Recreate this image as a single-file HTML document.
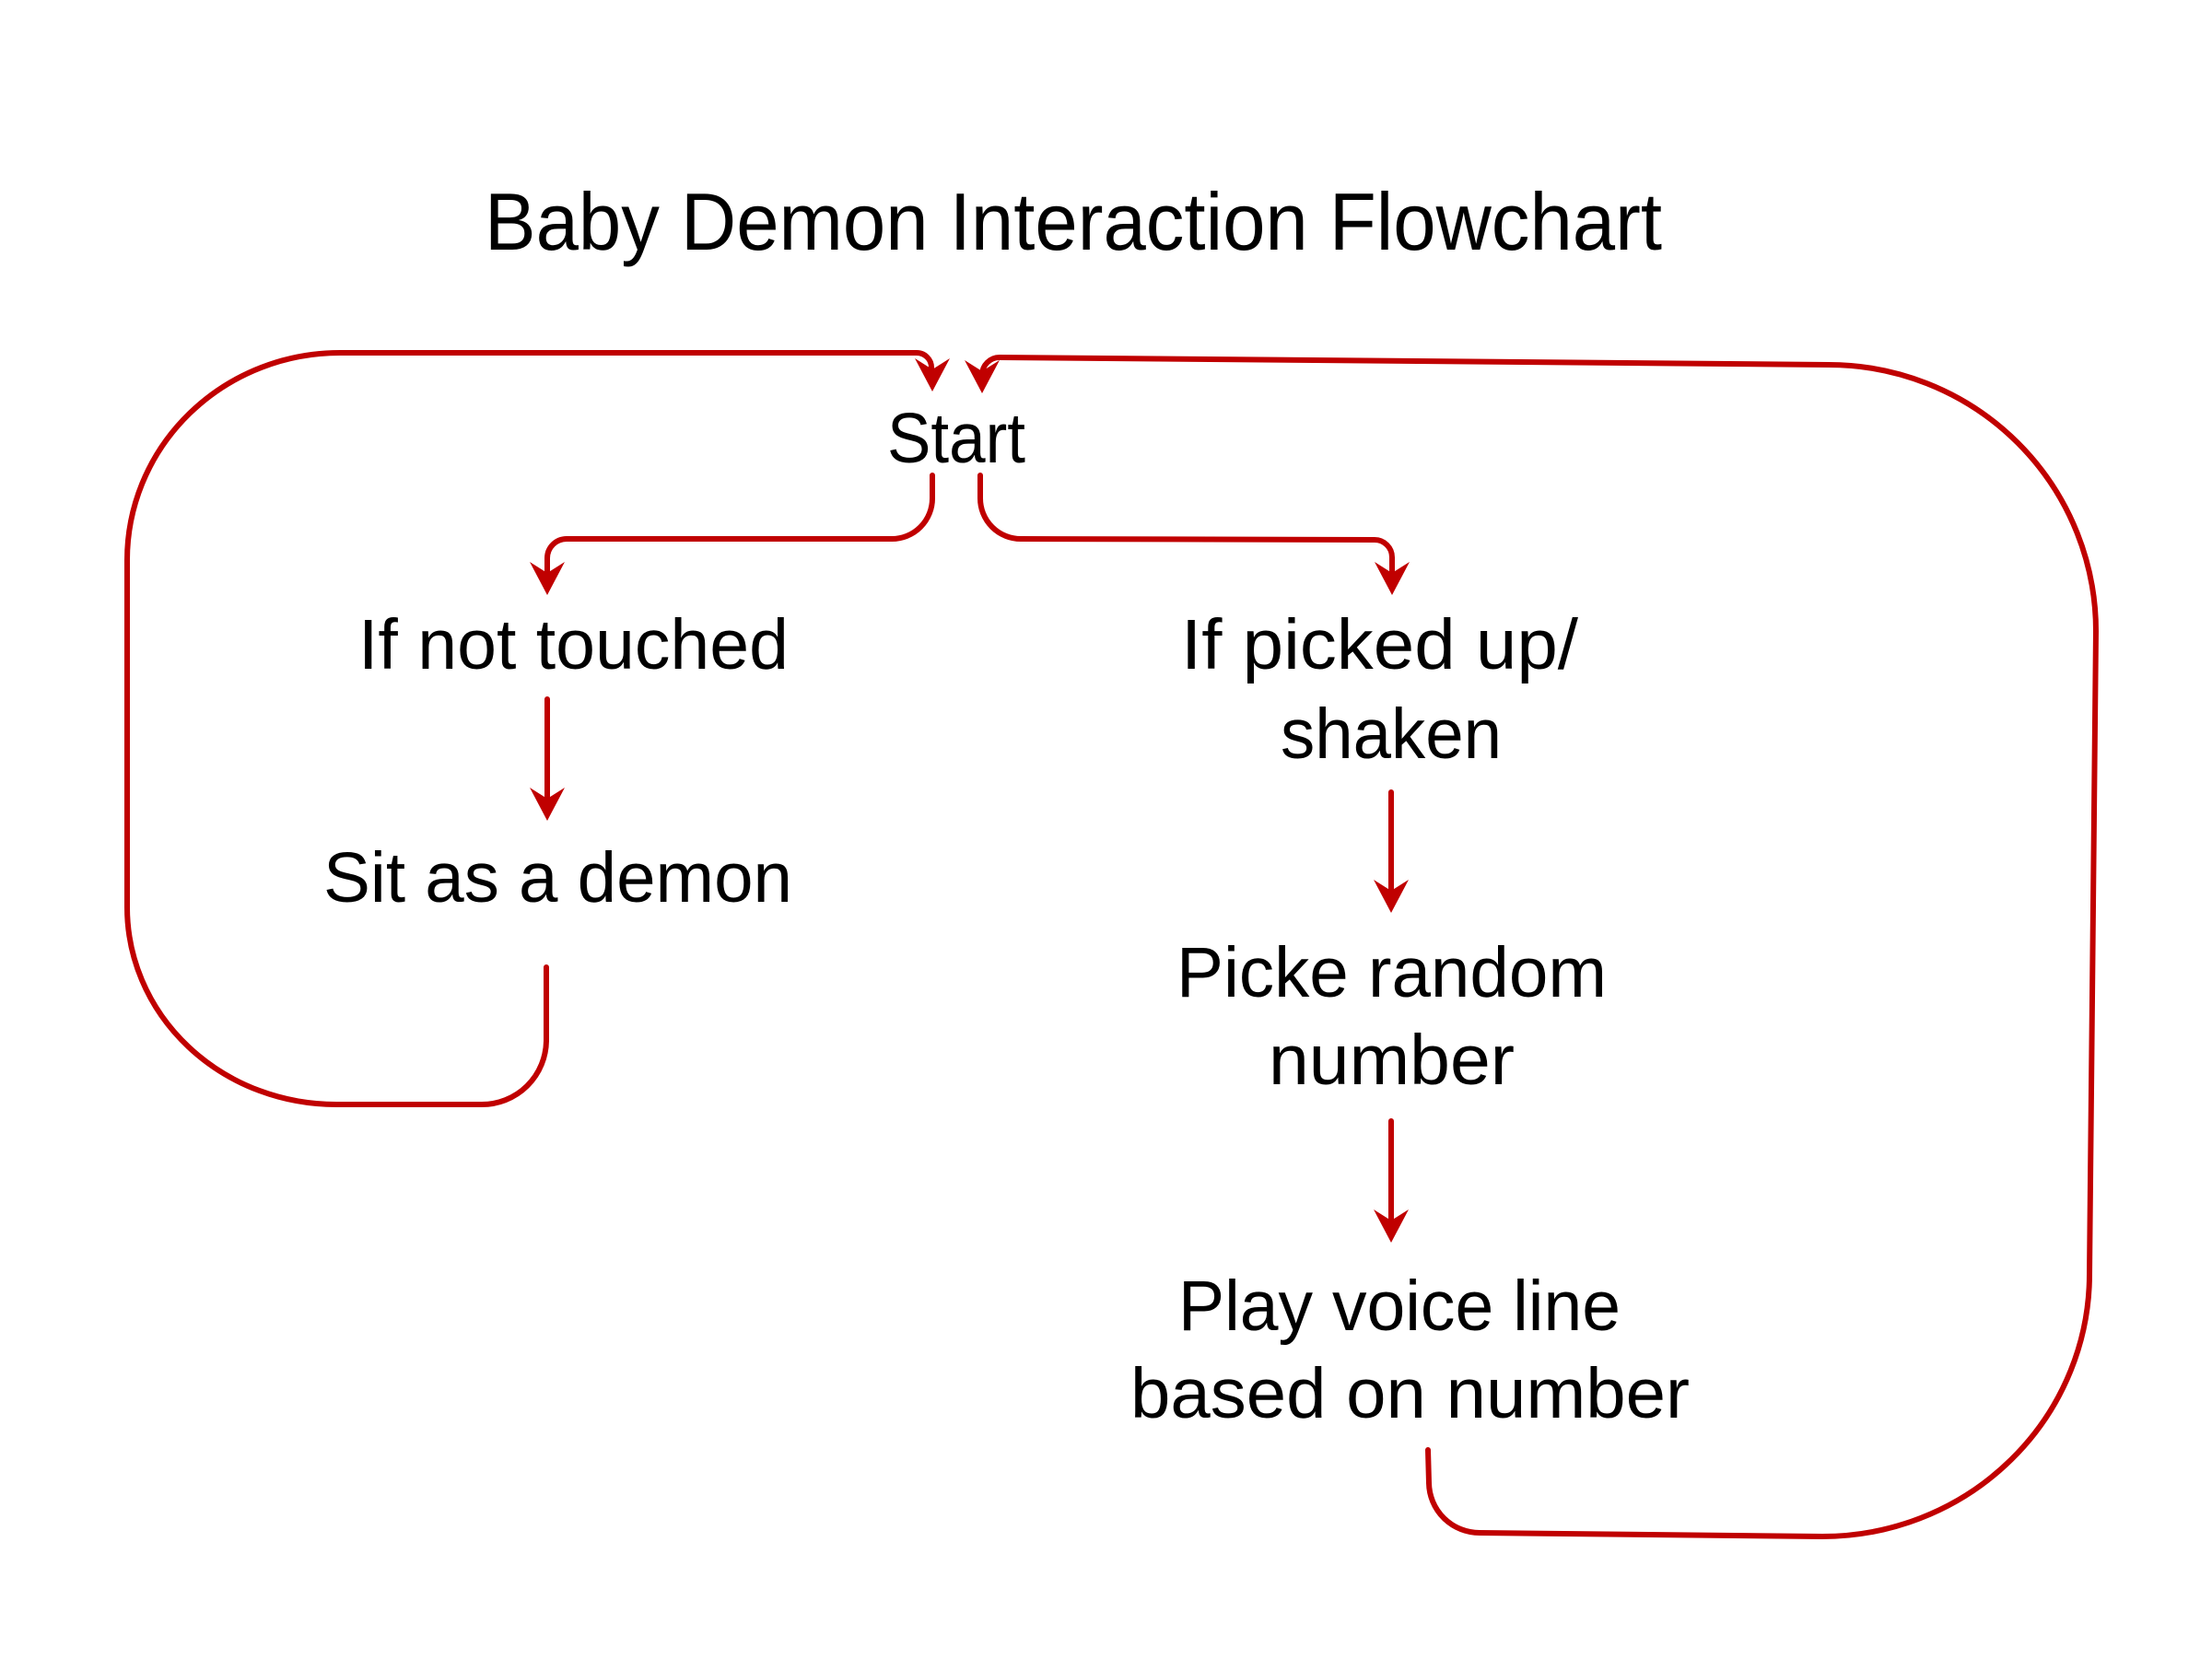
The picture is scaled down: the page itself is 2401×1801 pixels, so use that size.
<!DOCTYPE html>
<html><head><meta charset="utf-8"><style>
html,body{margin:0;padding:0;background:#fff;}
svg{display:block;}
text{font-family:"Liberation Sans",sans-serif;fill:#000;}
</style></head><body>
<svg width="2401" height="1801" viewBox="0 0 2401 1801" xmlns="http://www.w3.org/2000/svg">
<rect width="2401" height="1801" fill="#fff"/>
<defs>
<path id="ah" d="M0,0 L-19,-36 L0,-24 L19,-36 Z" fill="#c00000"/>
</defs>
<text x="526" y="271" font-size="88" textLength="1278" lengthAdjust="spacingAndGlyphs">Baby Demon Interaction Flowchart</text>
<text x="963" y="502" font-size="77" textLength="150" lengthAdjust="spacingAndGlyphs">Start</text>
<text x="389" y="726" font-size="77" textLength="467" lengthAdjust="spacingAndGlyphs">If not touched</text>
<text x="351" y="979" font-size="77" textLength="509" lengthAdjust="spacingAndGlyphs">Sit as a demon</text>
<text x="1282" y="726" font-size="77" textLength="431" lengthAdjust="spacingAndGlyphs">If picked up/</text>
<text x="1390" y="823" font-size="77" textLength="240" lengthAdjust="spacingAndGlyphs">shaken</text>
<text x="1277" y="1082" font-size="77" textLength="467" lengthAdjust="spacingAndGlyphs">Picke random</text>
<text x="1377" y="1177" font-size="77" textLength="267" lengthAdjust="spacingAndGlyphs">number</text>
<text x="1279" y="1444" font-size="77" textLength="480" lengthAdjust="spacingAndGlyphs">Play voice line</text>
<text x="1227" y="1539" font-size="77" textLength="607" lengthAdjust="spacingAndGlyphs">based on number</text>

<g fill="none" stroke="#c00000" stroke-width="6" stroke-linecap="round" stroke-linejoin="round">
<path d="M593,1050 L593,1130 A70,70 0 0 1 523,1199 L365,1199 A227,214 0 0 1 138,985 L138,608 A231,225 0 0 1 369,383 L995,383 A16,16 0 0 1 1011,399 L1011,410"/>
<path d="M1012,516 L1012,541 A44,44 0 0 1 968,585 L615,585 A21,21 0 0 0 594,606 L594,632"/>
<path d="M1064,516 L1064,541 A44,44 0 0 0 1108,585 L1492,586 A19,19 0 0 1 1511,605 L1511,632"/>
<path d="M594,759 L594,877"/>
<path d="M1510,860 L1510,977"/>
<path d="M1510,1217 L1510,1335"/>
<path d="M1550,1574 L1551,1610 A55,55 0 0 0 1606,1664 L1978,1668 A290,285 0 0 0 2268,1383 L2275,685 A290,289 0 0 0 1985,396 L1085,388 A19,19 0 0 0 1066,407 L1066,412"/>
</g>
<use href="#ah" x="1012" y="425"/>
<use href="#ah" x="1066" y="427"/>
<use href="#ah" x="594" y="646"/>
<use href="#ah" x="1511" y="646"/>
<use href="#ah" x="594" y="891"/>
<use href="#ah" x="1510" y="991"/>
<use href="#ah" x="1510" y="1349"/>
</svg>
</body></html>
